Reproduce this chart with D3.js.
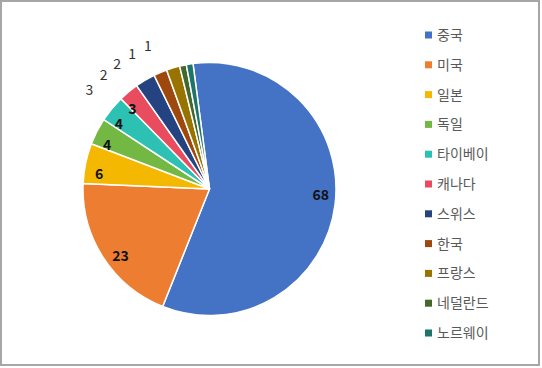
<!DOCTYPE html>
<html>
<head>
<meta charset="utf-8">
<script src="https://cdn.jsdelivr.net/npm/d3@7"></script>
<style>
  body { margin: 0; background: #fff; }
  svg { display: block; }
</style>
</head>
<body>
<div id="chart"></div>
<script>
const width = 542;
const height = 368;

// data
const countries = ["중국", "미국", "일본", "독일", "타이베이", "캐나다", "스위스", "한국", "프랑스", "네덜란드", "노르웨이"];
const counts = [68, 23, 6, 4, 4, 3, 3, 2, 2, 1, 1];
const colors = ["#4472C4", "#ED7D31", "#F5B800", "#72B843", "#2CC1B2", "#E84C5E", "#254380", "#9E480E", "#997300", "#43682B", "#1E7469"];

const cx = 209.5, cy = 189, radius = 126.5;
const startAngle = -7.5 * Math.PI / 180;
const outsideFrom = 6; // slices from here on get labels outside the pie

const svg = d3.select("#chart")
    .append("svg")
    .attr("width", width)
    .attr("height", height);

// frame
svg.append("rect")
    .attr("x", 1).attr("y", 1)
    .attr("width", 538).attr("height", 364)
    .attr("fill", "#fff")
    .attr("stroke", "#a6a6a6")
    .attr("stroke-width", 2);

const data = countries.map((c, i) => ({ name: c, value: counts[i], color: colors[i], i }));

const pie = d3.pie()
    .value(d => d.value)
    .sort(null)
    .startAngle(startAngle)
    .endAngle(startAngle + 2 * Math.PI);

const arcs = pie(data);
const arc = d3.arc().innerRadius(0).outerRadius(radius);

const g = svg.append("g").attr("transform", `translate(${cx},${cy})`);

g.selectAll("path")
    .data(arcs)
    .join("path")
    .attr("d", arc)
    .attr("fill", d => d.data.color)
    .attr("stroke", "#fff")
    .attr("stroke-width", 1.5);

const polar = (a, r) => [r * Math.sin(a), -r * Math.cos(a)];
const deg = Math.PI / 180;

// inside labels (near the outer edge)
g.selectAll("text.in")
    .data(arcs.filter(d => d.data.i < outsideFrom))
    .join("text")
    .attr("class", "in")
    .attr("transform", d => {
        const mid = (d.startAngle + d.endAngle) / 2 - 4 * deg;
        const [x, y] = polar(mid, radius * 0.88);
        return `translate(${x},${y})`;
    })
    .attr("text-anchor", "middle")
    .attr("dy", "0.35em")
    .style("font-family", "'Noto Sans CJK KR', sans-serif")
    .style("font-size", "14px")
    .style("font-weight", "bold")
    .style("fill", "#111")
    .text(d => d.value);

// outside labels, nudged counter-clockwise and kept apart
let prev = -Infinity;
const outside = arcs.filter(d => d.data.i >= outsideFrom).map(d => {
    const mid = (d.startAngle + d.endAngle) / 2;
    const a = Math.max(mid - 20 * deg, prev + 6.5 * deg);
    prev = a;
    return { d, a };
});

g.selectAll("text.out")
    .data(outside)
    .join("text")
    .attr("class", "out")
    .attr("transform", o => {
        const [x, y] = polar(o.a, radius + 29);
        return `translate(${x},${y})`;
    })
    .attr("text-anchor", "middle")
    .attr("dy", "0.35em")
    .style("font-family", "'Noto Sans CJK KR', sans-serif")
    .style("font-size", "14px")
    .style("fill", "#333")
    .text(o => o.d.value);

// legend
const ly = d3.scalePoint()
    .domain(countries)
    .range([35, 333]);

const legend = svg.append("g")
    .selectAll("g")
    .data(data)
    .join("g")
    .attr("transform", d => `translate(425,${ly(d.name)})`);

legend.append("rect")
    .attr("x", 0)
    .attr("y", -3.5)
    .attr("width", 7)
    .attr("height", 7)
    .attr("fill", d => d.color);

legend.append("text")
    .attr("x", 12)
    .attr("dy", "0.35em")
    .style("font-family", "'Noto Sans CJK KR', sans-serif")
    .style("font-size", "14px")
    .style("fill", "#595959")
    .text(d => d.name);
</script>
</body>
</html>
